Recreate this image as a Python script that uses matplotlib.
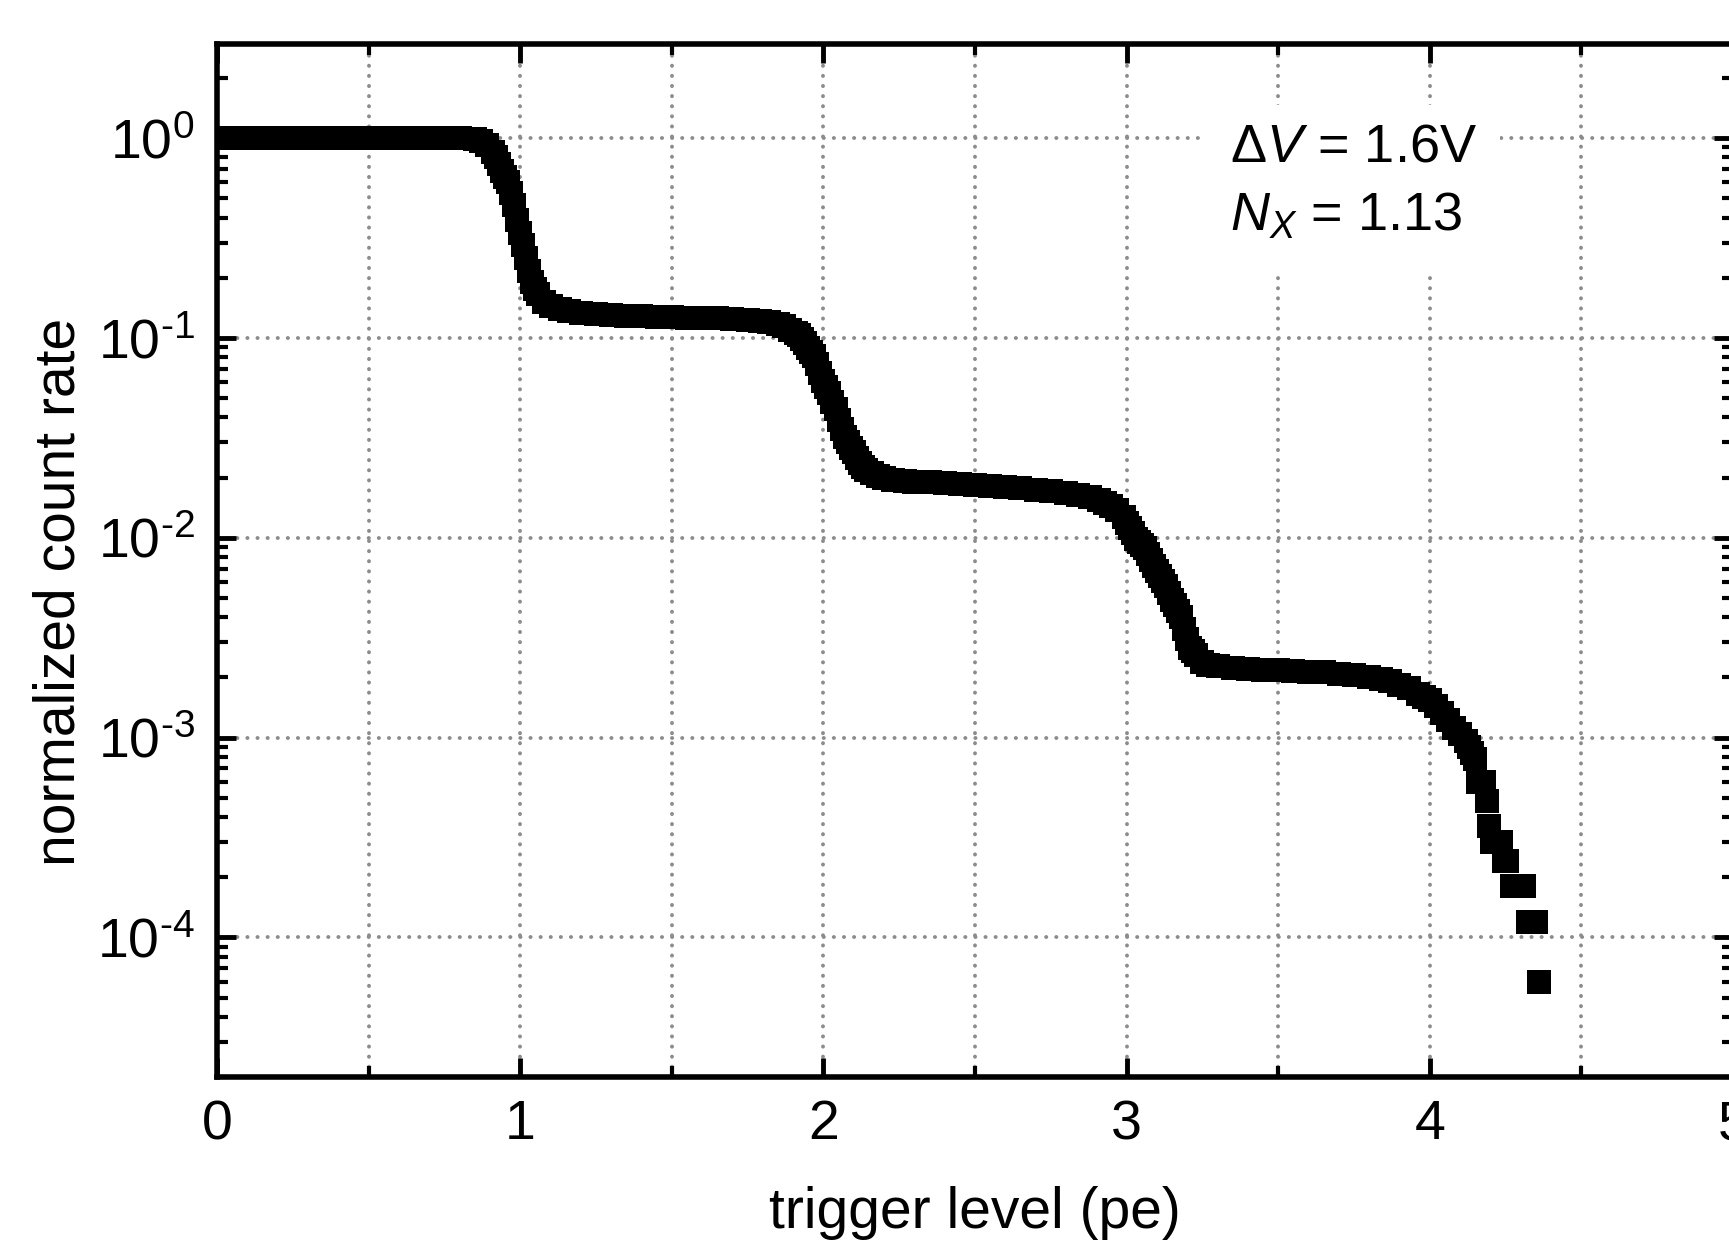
import matplotlib
matplotlib.use("Agg")
import matplotlib.pyplot as plt
from matplotlib.ticker import MultipleLocator, LogLocator, FuncFormatter
from matplotlib.patches import Rectangle
import math

# === Data ===
trigger_level = [
    0.00, 0.05, 0.10, 0.15, 0.20, 0.25, 0.30, 0.35, 0.40, 0.45, 0.50, 0.55,
    0.60, 0.65, 0.70, 0.75, 0.80, 0.85,
    0.87, 0.89, 0.91, 0.92, 0.93, 0.94, 0.95, 0.96, 0.97, 0.98, 0.99, 1.00,
    1.01, 1.02, 1.03, 1.04, 1.05, 1.06, 1.08, 1.10, 1.13, 1.16, 1.20, 1.25,
    1.30, 1.35, 1.40, 1.45, 1.50, 1.55, 1.60, 1.65, 1.70, 1.75, 1.79, 1.82, 1.85,
    1.87, 1.89, 1.91, 1.92, 1.93, 1.94, 1.95, 1.96, 1.97, 1.98, 1.99, 2.00,
    2.01, 2.02, 2.03, 2.04, 2.05, 2.06, 2.07, 2.08, 2.09, 2.10, 2.11, 2.12,
    2.13, 2.14, 2.16, 2.18, 2.20, 2.23, 2.27,
    2.30, 2.35, 2.40, 2.45, 2.50, 2.55, 2.60, 2.65, 2.70, 2.75, 2.80, 2.84,
    2.88, 2.91,
    2.93, 2.95, 2.97, 2.99, 3.00, 3.01, 3.02, 3.03, 3.04, 3.05, 3.06, 3.07,
    3.08, 3.09, 3.10, 3.11, 3.12, 3.13, 3.14, 3.15, 3.16, 3.17, 3.18, 3.19,
    3.20, 3.21, 3.22, 3.23, 3.25, 3.27, 3.30,
    3.35, 3.40, 3.45, 3.50, 3.55, 3.60, 3.65, 3.70, 3.75, 3.80, 3.84, 3.87,
    3.90, 3.93, 3.96, 3.98,
    4.00, 4.02, 4.04, 4.06, 4.08, 4.10, 4.12, 4.13, 4.14, 4.15,
    4.16, 4.17, 4.18, 4.19, 4.195, 4.205, 4.215, 4.225, 4.235, 4.245, 4.255,
    4.27, 4.28, 4.29, 4.30, 4.31, 4.325, 4.335, 4.345, 4.35, 4.36,
]

count_rate = [
    1.0, 1.0, 1.0, 1.0, 1.0, 1.0, 1.0, 1.0, 1.0, 1.0, 1.0, 1.0,
    1.0, 1.0, 1.0, 1.0, 1.0, 0.99,
    0.97, 0.92, 0.85, 0.80, 0.74, 0.68, 0.64, 0.60, 0.53, 0.46, 0.39, 0.335,
    0.29, 0.25, 0.215, 0.19, 0.175, 0.165, 0.152, 0.145, 0.139, 0.136, 0.133, 0.132,
    0.130, 0.129, 0.128, 0.127, 0.127, 0.126, 0.126, 0.125, 0.124, 0.123, 0.122, 0.120, 0.117,
    0.114, 0.110, 0.106, 0.1035, 0.099, 0.094, 0.089, 0.085, 0.081, 0.074, 0.067, 0.061,
    0.057, 0.053, 0.048, 0.044, 0.039, 0.035, 0.032, 0.030, 0.028, 0.0268, 0.025, 0.0237,
    0.0226, 0.0219, 0.021, 0.0203, 0.0198, 0.0195, 0.0192,
    0.0190, 0.0189, 0.0187, 0.0185, 0.0183, 0.0181, 0.0179, 0.0177, 0.0174, 0.0172, 0.0168, 0.0164,
    0.0160, 0.0155,
    0.0150, 0.0144, 0.0138, 0.0127, 0.0119, 0.0112, 0.0105, 0.0099, 0.0095, 0.0092, 0.0089, 0.0083,
    0.0077, 0.0072, 0.0068, 0.0064, 0.0061, 0.0057, 0.0053, 0.0049, 0.0046, 0.0043, 0.0040, 0.0035,
    0.0031, 0.0028, 0.0027, 0.0026, 0.0024, 0.0023, 0.00227,
    0.00223, 0.00221, 0.00219, 0.00217, 0.00216, 0.00214, 0.00212, 0.00208, 0.00205, 0.00200, 0.00197, 0.00191,
    0.00184, 0.00176, 0.00165, 0.00160,
    0.00155, 0.00144, 0.00133, 0.00122, 0.00112, 0.00104, 0.00096, 0.00090, 0.00084, 0.00078,
    6.0e-4, 6.0e-4, 6.0e-4, 4.8e-4, 3.6e-4, 3.0e-4, 3.0e-4, 3.0e-4, 3.0e-4, 2.4e-4, 2.4e-4,
    1.8e-4, 1.8e-4, 1.8e-4, 1.8e-4, 1.8e-4, 1.2e-4, 1.2e-4, 1.2e-4, 1.2e-4, 6.0e-5,
]

x_ticks = [0, 1, 2, 3, 4, 5]
annotation_lines = [r"$\Delta V$ = 1.6V", r"$N_X$ = 1.13"]

# === Style ===
plt.rcParams["font.family"] = ["Liberation Sans", "DejaVu Sans"]
plt.rcParams["mathtext.fontset"] = "custom"
plt.rcParams["mathtext.rm"] = "Liberation Sans"
plt.rcParams["mathtext.it"] = "Liberation Sans:italic"
plt.rcParams["mathtext.sf"] = "Liberation Sans"
plt.rcParams["lines.dash_capstyle"] = "round"


def decade_label(v, pos):
    n = int(round(math.log10(v)))
    sign = "\u2010" if n < 0 else ""
    return r"$\mathregular{10^{%s%d}}$" % (sign, abs(n))


fig = plt.figure(figsize=(17.29, 12.43), dpi=100)
ax = fig.add_axes([0.1255, 0.1335, 0.8768, 0.8310])

ax.plot(trigger_level, count_rate, linestyle="none", marker="s",
        markersize=17, markeredgewidth=0, color="black", zorder=3)

ax.set_yscale("log")
ax.set_xlim(0, 5)
ax.set_ylim(2.0e-5, 2.95)

ax.set_xticks(x_ticks)
ax.xaxis.set_minor_locator(MultipleLocator(0.5))
ax.yaxis.set_major_locator(LogLocator(base=10, numticks=20))
ax.yaxis.set_minor_locator(LogLocator(base=10, subs=range(2, 10), numticks=20))
ax.yaxis.set_major_formatter(FuncFormatter(decade_label))

ax.tick_params(which="both", direction="in", top=True, right=True)
ax.tick_params(which="major", length=14, width=3.5, labelsize=40)
ax.tick_params(which="minor", length=8, width=3)
ax.tick_params(axis="x", which="major", pad=16)
ax.tick_params(axis="y", which="major", pad=16)

for s in ax.spines.values():
    s.set_linewidth(4)

grid_style = dict(color="#8c8c8c", linewidth=2.8, linestyle=(0, (0.05, 2.55)))
ax.grid(which="major", axis="both", **grid_style)
ax.grid(which="minor", axis="x", **grid_style)
ax.grid(which="minor", axis="y", visible=False)

ax.set_xlabel("trigger level (pe)", fontsize=41)
ax.set_ylabel("normalized count rate", fontsize=41)
ax.xaxis.set_label_coords(0.5, -0.105)
ax.yaxis.set_label_coords(-0.086, 0.47)

# white box behind the annotation
ax.add_patch(Rectangle((0.65, 0.779), 0.196, 0.162, transform=ax.transAxes,
                       facecolor="white", edgecolor="none", zorder=2))
ax.text(3.34, 0.761, annotation_lines[0], fontsize=39, zorder=4)
ax.text(3.34, 0.344, annotation_lines[1], fontsize=39, zorder=4)

fig.savefig("out.png", dpi=100)
